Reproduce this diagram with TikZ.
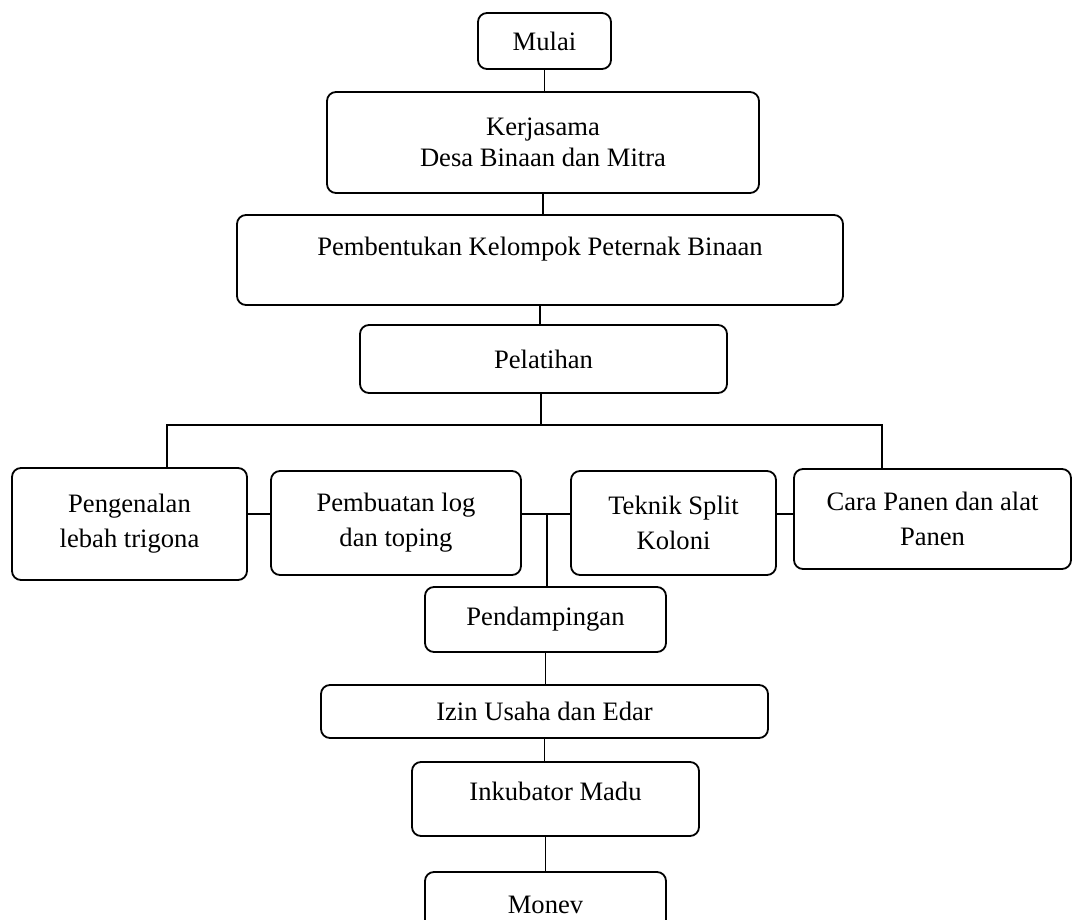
\documentclass[tikz,border=0pt]{standalone}
\usepackage{fontspec}
\setmainfont{Liberation Serif}
\usetikzlibrary{positioning, calc}

\begin{document}
\begin{tikzpicture}[
x=1pt, y=-1pt,
block/.style={
	rectangle,
	draw,
	line width=1.8pt,
	align=center,
	rounded corners=9pt,
	inner sep=0pt,
	font=\fontsize{26.6}{35}\selectfont
},
line/.style={
	draw, line width=1.4pt
}
]
\clip (0,0) rectangle (1072,920);

% Nodes
\node[block, minimum width=133, minimum height=56] (mulai) at (544.5,41) {Mulai};
\node[block, minimum width=432, minimum height=101, font=\fontsize{26.6}{31}\selectfont] (kerjasama) at (543,142.5) {Kerjasama\\Desa Binaan dan Mitra};
\node[block, minimum width=606, minimum height=90, text depth=27pt] (pembentukan) at (540,260) {Pembentukan Kelompok Peternak Binaan};
\node[block, minimum width=367, minimum height=68] (pelatihan) at (543.5,359) {Pelatihan};

\node[block, minimum width=235, minimum height=112] (pengenalan) at (129.5,524) {Pengenalan\\lebah trigona};
\node[block, minimum width=250, minimum height=104] (pembuatan) at (396,523) {Pembuatan log\\dan toping};
\node[block, minimum width=205, minimum height=104] (teknik) at (673.5,523) {Teknik Split\\Koloni};
\node[block, minimum width=277, minimum height=100] (cara) at (932.5,519) {Cara Panen dan alat\\Panen};

\node[block, minimum width=241, minimum height=65] (pendampingan) at (545.5,619.5) {Pendampingan};
\node[block, minimum width=447, minimum height=53] (izin) at (544.5,711.5) {Izin Usaha dan Edar};
\node[block, minimum width=287, minimum height=74, text depth=16pt] (inkubator) at (555.5,799) {Inkubator Madu};
\node[block, minimum width=241, minimum height=65] (monev) at (545.5,904.5) {Monev};

\coordinate (bus) at (541,425);
\coordinate (busL) at (167,425);
\coordinate (busR) at (882,425);
\coordinate (mid) at (547,514);

% Lines
\draw[line] (mulai.south) -- (mulai.south |- kerjasama.north);
\draw[line] (kerjasama.south) -- (kerjasama.south |- pembentukan.north);
\draw[line] (pembentukan.south) -- (pembentukan.south |- pelatihan.north);
\draw[line] (pelatihan.south -| bus) -- (bus);
\draw[line] (pengenalan.north -| busL) -- (busL) -- (busR) -- (cara.north -| busR);

\draw[line] (pengenalan.east |- mid) -- (pembuatan.west |- mid);
\draw[line] (pembuatan.east |- mid) -- (teknik.west |- mid);
\draw[line] (teknik.east |- mid) -- (cara.west |- mid);
\draw[line] (mid) -- (pendampingan.north -| mid);

\draw[line] (pendampingan.south) -- (pendampingan.south |- izin.north);
\draw[line] (izin.south) -- (izin.south |- inkubator.north);
\draw[line] (monev.north |- inkubator.south) -- (monev.north);

\end{tikzpicture}
\end{document}
